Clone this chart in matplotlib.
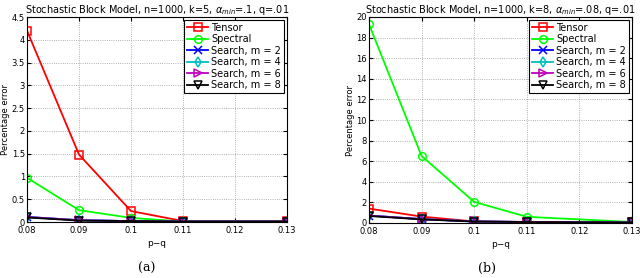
import numpy as np
import matplotlib.pyplot as plt

# p - q values (no run at 0.12)
pq = [0.08, 0.09, 0.10, 0.11, 0.13]

# panel (a): k=5, alpha_min=.1
tensor_a = [4.2, 1.48, 0.24, 0.02, 0.02]
spectral_a = [0.97, 0.26, 0.09, 0.01, 0.01]
search2_a = [0.11, 0.04, 0.02, 0.01, 0.01]
search4_a = [0.11, 0.04, 0.02, 0.01, 0.01]
search6_a = [0.11, 0.04, 0.02, 0.01, 0.01]
search8_a = [0.10, 0.03, 0.02, 0.01, 0.01]

# panel (b): k=8, alpha_min=.08
tensor_b = [1.4, 0.62, 0.15, 0.1, 0.05]
spectral_b = [19.3, 6.5, 2.05, 0.6, 0.1]
search2_b = [0.72, 0.38, 0.15, 0.1, 0.05]
search4_b = [0.72, 0.38, 0.15, 0.1, 0.05]
search6_b = [0.72, 0.38, 0.15, 0.1, 0.05]
search8_b = [0.68, 0.35, 0.14, 0.09, 0.05]

labels = ['Tensor', 'Spectral', 'Search, m = 2', 'Search, m = 4',
          'Search, m = 6', 'Search, m = 8']
styles = [('r', 's'), ('#00ff00', 'o'), ('b', 'x'), ('c', 'd'),
          ('m', '>'), ('k', 'v')]

fig = plt.figure(figsize=(6.4, 2.78), dpi=100)
ax_a = fig.add_axes([27/640, 1 - 222/278, 260/640, 205/278])
ax_b = fig.add_axes([369/640, 1 - 223/278, 263/640, 206/278])


def draw_panel(ax, series, title, ymax, ystep):
    for vals, lab, (col, mk) in zip(series, labels, styles):
        ax.plot(pq, vals, color=col, marker=mk, markersize=5.5, lw=1.3,
                markerfacecolor='none', markeredgewidth=1.1, label=lab)
    ax.set_xlim(0.08, 0.13)
    ax.set_ylim(0, ymax)
    ax.set_xticks([0.08, 0.09, 0.10, 0.11, 0.12, 0.13])
    ax.set_xticklabels(['0.08', '0.09', '0.1', '0.11', '0.12', '0.13'])
    ax.set_yticks(np.arange(0, ymax + ystep / 2, ystep))
    ax.yaxis.set_major_formatter(plt.FuncFormatter(lambda v, p: ('%g' % v)))
    ax.tick_params(direction='in', top=True, right=True, labelsize=6, length=3)
    ax.tick_params(axis='x', pad=3)
    ax.tick_params(axis='y', pad=1.5)
    ax.grid(True, linestyle=':', color='#999999', lw=0.6)
    ax.set_xlabel('p\u2212q', fontsize=6.5, labelpad=3)
    ax.set_ylabel('Percentage error', fontsize=6, labelpad=1)
    ax.set_title(title, fontsize=7, pad=3)
    leg = ax.legend(loc='upper right', fontsize=7, handlelength=2.2,
                    borderpad=0.3, labelspacing=0.15, handletextpad=0.3,
                    fancybox=False, framealpha=1, borderaxespad=0.3)
    leg.get_frame().set_edgecolor('k')
    leg.get_frame().set_linewidth(0.8)


draw_panel(ax_a, [tensor_a, spectral_a, search2_a, search4_a, search6_a, search8_a],
           r'Stochastic Block Model, n=1000, k=5, $\alpha_{min}$=.1, q=.01', 4.5, 0.5)
draw_panel(ax_b, [tensor_b, spectral_b, search2_b, search4_b, search6_b, search8_b],
           r'Stochastic Block Model, n=1000, k=8, $\alpha_{min}$=.08, q=.01', 20, 2)

fig.text(147/640, 1 - 268/278, '(a)', family='DejaVu Serif', fontsize=9,
         ha='center', va='center')
fig.text(487/640, 1 - 268/278, '(b)', family='DejaVu Serif', fontsize=9,
         ha='center', va='center')

fig.savefig('out.png', dpi=100)
